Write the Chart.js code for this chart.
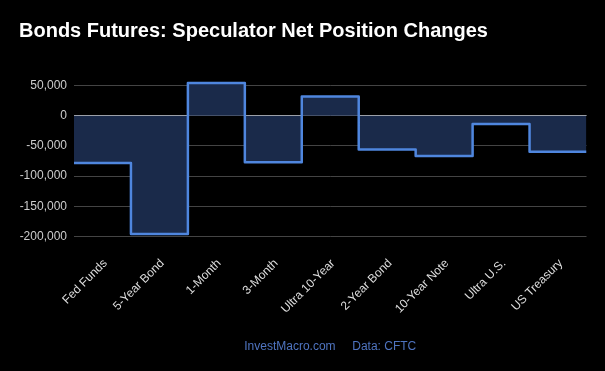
<!DOCTYPE html>
<html>
<head>
<meta charset="utf-8">
<script src="https://cdn.jsdelivr.net/npm/chart.js@4"></script>
<style>
html,body{margin:0;padding:0;background:#000;}
canvas{display:block;}
</style>
</head>
<body>
<canvas id="c" width="605" height="371"></canvas>
<script>
const categories = ["Fed Funds", "5-Year Bond", "1-Month", "3-Month", "Ultra 10-Year", "2-Year Bond", "10-Year Note", "Ultra U.S.", "US Treasury"];
const netChange = [-78400, -196000, 54200, -77300, 32000, -55800, -66800, -13800, -59700];
const yTicks = [50000, 0, -50000, -100000, -150000, -200000];

const points = netChange.map((v, i) => ({ x: i, y: v }));
points.push({ x: netChange.length, y: netChange[netChange.length - 1] });

new Chart(document.getElementById('c'), {
  type: 'line',
  data: {
    datasets: [{
      data: points,
      stepped: 'before',
      borderColor: '#4f86de',
      borderWidth: 2.5,
      borderJoinStyle: 'round',
      borderCapStyle: 'butt',
      backgroundColor: '#1a2a4a',
      fill: 'origin',
      pointRadius: 0,
      pointHoverRadius: 0
    }]
  },
  options: {
    responsive: false,
    devicePixelRatio: 1,
    animation: false,
    layout: { padding: { left: 19, right: 18.5, top: 0, bottom: 0 } },
    plugins: {
      legend: { display: false },
      tooltip: { enabled: false },
      title: {
        display: true,
        text: 'Bonds Futures: Speculator Net Position Changes',
        align: 'start',
        color: '#ffffff',
        font: { family: 'Arial, "Liberation Sans", sans-serif', size: 20, weight: 'bold' },
        padding: { top: 19, bottom: 36.5 }
      },
      subtitle: {
        display: true,
        position: 'bottom',
        fullSize: false,
        text: 'InvestMacro.com     Data: CFTC',
        color: '#4f74c0',
        font: { family: 'Arial, "Liberation Sans", sans-serif', size: 12, weight: 'normal' },
        padding: { top: 10, bottom: 17 }
      }
    },
    scales: {
      x: {
        type: 'linear',
        min: 0,
        max: categories.length,
        afterBuildTicks: (scale) => { scale.ticks = categories.map((c, i) => ({ value: i + 0.55 })); },
        afterFit: (scale) => { scale.height = 93.2; },
        ticks: {
          autoSkip: false,
          maxRotation: 45,
          minRotation: 45,
          padding: 12,
          color: '#dddddd',
          font: { family: 'Arial, "Liberation Sans", sans-serif', size: 12 },
          callback: (val, idx) => categories[idx]
        },
        grid: { display: false },
        border: { display: false }
      },
      y: {
        min: -200000,
        max: 60000,
        afterBuildTicks: (scale) => { scale.ticks = yTicks.map(v => ({ value: v })); },
        afterFit: (scale) => { scale.width = 55; },
        ticks: {
          color: '#cccccc',
          padding: 7,
          font: { family: 'Arial, "Liberation Sans", sans-serif', size: 12 },
          callback: (v) => v.toLocaleString('en-US')
        },
        grid: {
          drawTicks: false,
          color: (ctx) => (ctx.tick && ctx.tick.value === 0) ? '#c8c8c8' : '#444444',
          lineWidth: 1
        },
        border: { display: false }
      }
    }
  }
});
</script>
</body>
</html>
